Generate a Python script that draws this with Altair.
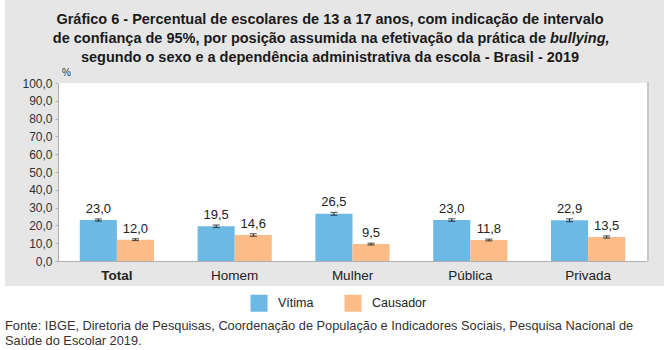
import altair as alt
import pandas as pd

categorias = ["Total", "Homem", "Mulher", "Pública", "Privada"]
series = ["Vítima", "Causador"]
vitima = [23.0, 19.5, 26.5, 23.0, 22.9]
vitima_li = [22.4, 18.8, 25.7, 22.3, 22.1]
vitima_ls = [23.6, 20.2, 27.3, 23.7, 23.7]
causador = [12.0, 14.6, 9.5, 11.8, 13.5]
causador_li = [11.5, 13.9, 9.0, 11.3, 12.9]
causador_ls = [12.5, 15.3, 10.0, 12.3, 14.1]
y_ticks = [0, 10, 20, 30, 40, 50, 60, 70, 80, 90, 100]

rows = []
for i, c in enumerate(categorias):
    rows.append({"cat": c, "serie": "Vítima", "valor": vitima[i], "li": vitima_li[i], "ls": vitima_ls[i]})
    rows.append({"cat": c, "serie": "Causador", "valor": causador[i], "li": causador_li[i], "ls": causador_ls[i]})
df = pd.DataFrame(rows)
df["rotulo"] = df["valor"].map(lambda v: f"{v:.1f}".replace(".", ","))

W, H = 589, 178
PL, PT = 58, 83
FONT = "Liberation Sans"
one = alt.Data(values=[{"a": 1}])

bg = alt.Chart(one).mark_rect(color="#e6e6e6").encode(
    x=alt.value(5 - PL), x2=alt.value(664 - PL), y=alt.value(-PT), y2=alt.value(286 - PT))
plotbg = alt.Chart(one).mark_rect(color="white").encode(
    x=alt.value(0), x2=alt.value(W), y=alt.value(0), y2=alt.value(H))
shadow = alt.Chart(one).mark_rule(color="#c9c9c9", strokeWidth=2).encode(
    x=alt.value(W + 1), y=alt.value(-1), y2=alt.value(H))

xenc = alt.X("cat:N", sort=categorias,
             scale=alt.Scale(paddingInner=0.37, paddingOuter=0.185),
             axis=alt.Axis(title=None, ticks=False, labelAngle=0, labelFontSize=13.5,
                           labelColor="#222", labelPadding=7, domainColor="#b0b0b0",
                           labelFont=FONT, zindex=2,
                           labelFontWeight=alt.condition("datum.value == 'Total'", alt.value("bold"), alt.value("normal"))))
xoff = alt.XOffset("serie:N", sort=series, scale=alt.Scale(paddingInner=0, paddingOuter=0))
yscale = alt.Scale(domain=[0, 100], nice=False)
yaxis = alt.Axis(title=None, values=y_ticks, grid=False, tickSize=3, zindex=2,
                 labelExpr="replace(format(datum.value, '.1f'), '.', ',')",
                 labelFontSize=12, labelColor="#333", labelFont=FONT,
                 domainColor="#b0b0b0", tickColor="#b0b0b0", labelPadding=3)

bars = alt.Chart(df).mark_bar().encode(
    x=xenc, xOffset=xoff,
    y=alt.Y("valor:Q", scale=yscale, axis=yaxis),
    color=alt.Color("serie:N", sort=series,
                    scale=alt.Scale(domain=series, range=["#6cb9e6", "#fcbc88"]),
                    legend=alt.Legend(orient="none", legendX=192, legendY=211, direction="horizontal",
                                      title=None, symbolType="square", symbolSize=290,
                                      symbolStrokeWidth=0, labelFontSize=12.5, labelFont=FONT,
                                      labelColor="#222", columnPadding=30, labelOffset=10)))

err = alt.Chart(df).mark_rule(color="#222", strokeWidth=1).encode(
    x=xenc, xOffset=xoff, y=alt.Y("li:Q", scale=yscale, axis=yaxis), y2="ls:Q")
cap_lo = alt.Chart(df).mark_tick(color="#222", size=7, thickness=1.2, orient="horizontal").encode(
    x=xenc, xOffset=xoff, y=alt.Y("li:Q", scale=yscale, axis=yaxis))
cap_hi = alt.Chart(df).mark_tick(color="#222", size=7, thickness=1.2, orient="horizontal").encode(
    x=xenc, xOffset=xoff, y=alt.Y("ls:Q", scale=yscale, axis=yaxis))
labels = alt.Chart(df).mark_text(baseline="bottom", dy=-3, fontSize=13, color="#222", font=FONT).encode(
    x=xenc, xOffset=xoff, y=alt.Y("ls:Q", scale=yscale, axis=yaxis), text="rotulo:N")

pct = alt.Chart(one).mark_text(text="%", fontSize=10, color="#333", align="left", font=FONT).encode(
    x=alt.value(4), y=alt.value(-10))

tfont = dict(font=FONT, fontWeight="bold", fontSize=14.5, color="#1a1a1a")
cx = 330 - PL
X2 = 546
t1 = alt.Chart(one).mark_text(text="Gráfico 6 - Percentual de escolares de 13 a 17 anos, com indicação de intervalo",
                              align="center", **tfont).encode(x=alt.value(cx), y=alt.value(20 - PT))
t2a = alt.Chart(one).mark_text(text="de confiança de 95%, por posição assumida na efetivação da prática de",
                               align="right", **tfont).encode(x=alt.value(X2 - PL), y=alt.value(39 - PT))
t2b = alt.Chart(one).mark_text(text="bullying,", align="left", fontStyle="italic", **tfont).encode(
    x=alt.value(X2 + 4 - PL), y=alt.value(39 - PT))
t3 = alt.Chart(one).mark_text(text="segundo o sexo e a dependência administrativa da escola - Brasil - 2019",
                              align="center", **tfont).encode(x=alt.value(cx), y=alt.value(58 - PT))

sfont = dict(font=FONT, fontSize=12.8, color="#333", align="left")
s1 = alt.Chart(one).mark_text(
    text="Fonte: IBGE, Diretoria de Pesquisas, Coordenação de População e Indicadores Sociais, Pesquisa Nacional de",
    **sfont).encode(x=alt.value(5 - PL), y=alt.value(326 - PT))
s2 = alt.Chart(one).mark_text(text="Saúde do Escolar 2019.", **sfont).encode(
    x=alt.value(5 - PL), y=alt.value(341 - PT))

chart = alt.layer(bg, plotbg, shadow, bars, err, cap_lo, cap_hi, labels, pct, t1, t2a, t2b, t3, s1, s2).properties(
    width=W, height=H,
    autosize=alt.AutoSizeParams(type="none"),
    padding={"left": PL, "top": PT, "right": 664 - PL - W, "bottom": 350 - PT - H},
    background="white",
).configure_view(stroke=None)

chart.save("out.html", embed_options={"renderer": "svg", "actions": False})
